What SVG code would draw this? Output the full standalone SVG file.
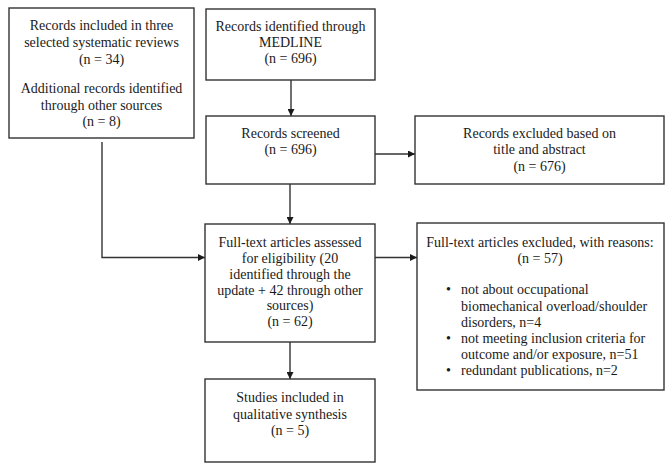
<svg xmlns="http://www.w3.org/2000/svg" width="672" height="469" viewBox="0 0 672 469">
<defs>
<style>
.box{fill:#fff;stroke:#333;stroke-width:1.4}
.t{font-family:"Liberation Serif","Times New Roman",serif;font-size:14px;fill:#1a1a1a;text-anchor:middle}
.l{font-family:"Liberation Serif","Times New Roman",serif;font-size:14px;fill:#1a1a1a}
.c{fill:none;stroke:#333;stroke-width:1.4}
</style>
<marker id="ah" viewBox="0 0 10 10" refX="10" refY="5" markerWidth="7" markerHeight="7" markerUnits="userSpaceOnUse" orient="auto">
<path d="M0,0 L10,5 L0,10 z" fill="#1a1a1a"/>
</marker>
</defs>
<rect width="672" height="469" fill="#fff"/>
<g id="connectors">
<path class="c" d="M291,80 V116" marker-end="url(#ah)"/>
<path class="c" d="M375,154 H415" marker-end="url(#ah)"/>
<path class="c" d="M290,184 V224" marker-end="url(#ah)"/>
<path class="c" d="M102,142 V257.5 H205" marker-end="url(#ah)"/>
<path class="c" d="M375,257.5 H417" marker-end="url(#ah)"/>
<path class="c" d="M290,342 V379" marker-end="url(#ah)"/>
</g>
<g id="n_reviews">
<rect class="box" x="9" y="8" width="185" height="130"/>
<text class="t" x="101.5" y="29.5">Records included in three</text>
<text class="t" x="101.5" y="46.5">selected systematic reviews</text>
<text class="t" x="101.5" y="63.5">(n = 34)</text>
<text class="t" x="101.5" y="92.5">Additional records identified</text>
<text class="t" x="101.5" y="109.5">through other sources</text>
<text class="t" x="101.5" y="125.5">(n = 8)</text>
</g>
<g id="n_medline">
<rect class="box" x="206" y="9" width="169" height="71"/>
<text class="t" x="290.5" y="30.5">Records identified through</text>
<text class="t" x="290.5" y="46.5">MEDLINE</text>
<text class="t" x="290.5" y="63">(n = 696)</text>
</g>
<g id="n_screened">
<rect class="box" x="206" y="116" width="169" height="68"/>
<text class="t" x="290.5" y="138">Records screened</text>
<text class="t" x="290.5" y="154">(n = 696)</text>
</g>
<g id="n_excluded">
<rect class="box" x="415" y="116" width="249" height="68"/>
<text class="t" x="539.5" y="137.5">Records excluded based on</text>
<text class="t" x="539.5" y="154">title and abstract</text>
<text class="t" x="539.5" y="170.5">(n = 676)</text>
</g>
<g id="n_fulltext">
<rect class="box" x="205" y="224" width="170" height="118"/>
<text class="t" x="290" y="247">Full-text articles assessed</text>
<text class="t" x="290" y="263">for eligibility (20</text>
<text class="t" x="290" y="279">identified through the</text>
<text class="t" x="290" y="294.5">update + 42 through other</text>
<text class="t" x="290" y="310">sources)</text>
<text class="t" x="290" y="326">(n = 62)</text>
</g>
<g id="n_reasons">
<rect class="box" x="417" y="223" width="247" height="167"/>
<text class="t" x="540" y="247">Full-text articles excluded, with reasons:</text>
<text class="t" x="540" y="263">(n = 57)</text>
<text class="l" x="446" y="294">•</text>
<text class="l" x="461" y="294">not about occupational</text>
<text class="l" x="461" y="310.5">biomechanical overload/shoulder</text>
<text class="l" x="461" y="326.5">disorders, n=4</text>
<text class="l" x="446" y="342.5">•</text>
<text class="l" x="461" y="342.5">not meeting inclusion criteria for</text>
<text class="l" x="461" y="358.5">outcome and/or exposure, n=51</text>
<text class="l" x="446" y="375">•</text>
<text class="l" x="461" y="375">redundant publications, n=2</text>
</g>
<g id="n_studies">
<rect class="box" x="205" y="379" width="170" height="83"/>
<text class="t" x="290" y="402">Studies included in</text>
<text class="t" x="290" y="418.5">qualitative synthesis</text>
<text class="t" x="290" y="434.5">(n = 5)</text>
</g>
</svg>
